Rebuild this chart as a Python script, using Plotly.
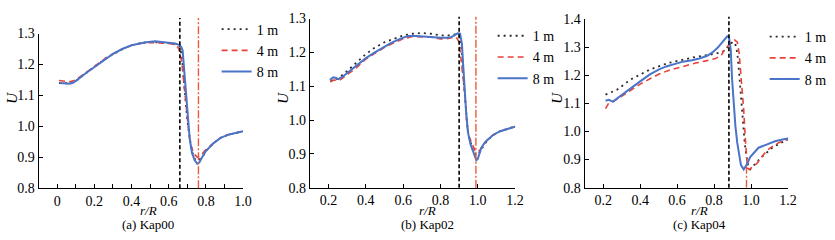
import plotly.graph_objects as go

# ---------------- data ----------------
# Panel (a) Kap00
xa_1 = [0.01, 0.04, 0.07, 0.10, 0.15, 0.20, 0.26, 0.30, 0.35, 0.40, 0.45, 0.50, 0.55, 0.60, 0.64, 0.66, 0.67, 0.68, 0.69, 0.70, 0.71, 0.72, 0.73, 0.74, 0.75, 0.76, 0.78, 0.80, 0.84, 0.88, 0.92, 0.96, 1.00]
ua_1 = [1.140, 1.140, 1.139, 1.147, 1.170, 1.192, 1.219, 1.233, 1.249, 1.262, 1.269, 1.273, 1.272, 1.269, 1.266, 1.258, 1.23, 1.17, 1.09, 1.02, 0.97, 0.935, 0.91, 0.895, 0.89, 0.89, 0.90, 0.92, 0.945, 0.963, 0.973, 0.979, 0.984]
xa_4 = [0.01, 0.04, 0.07, 0.10, 0.15, 0.20, 0.26, 0.30, 0.35, 0.40, 0.45, 0.50, 0.55, 0.60, 0.64, 0.655, 0.67, 0.68, 0.69, 0.70, 0.71, 0.72, 0.73, 0.745, 0.755, 0.77, 0.80, 0.85, 0.88, 0.92, 0.96, 1.00]
ua_4 = [1.148, 1.146, 1.144, 1.150, 1.172, 1.193, 1.220, 1.234, 1.250, 1.262, 1.269, 1.271, 1.270, 1.268, 1.263, 1.25, 1.21, 1.15, 1.08, 1.02, 0.97, 0.94, 0.92, 0.905, 0.90, 0.905, 0.925, 0.95, 0.963, 0.973, 0.979, 0.984]
xa_8 = [0.014, 0.04, 0.067, 0.085, 0.103, 0.15, 0.20, 0.262, 0.30, 0.35, 0.40, 0.439, 0.48, 0.527, 0.58, 0.634, 0.66, 0.669, 0.675, 0.685, 0.695, 0.705, 0.713, 0.725, 0.74, 0.754, 0.765, 0.78, 0.80, 0.84, 0.88, 0.92, 0.96, 1.00]
ua_8 = [1.140, 1.139, 1.138, 1.141, 1.148, 1.170, 1.192, 1.219, 1.234, 1.250, 1.262, 1.267, 1.272, 1.275, 1.272, 1.268, 1.263, 1.255, 1.245, 1.17, 1.093, 1.02, 0.96, 0.915, 0.89, 0.879, 0.884, 0.90, 0.92, 0.945, 0.963, 0.973, 0.979, 0.984]

# Panel (b) Kap02
xb_1 = [0.21, 0.25, 0.30, 0.35, 0.40, 0.45, 0.50, 0.55, 0.60, 0.65, 0.70, 0.75, 0.80, 0.85, 0.89, 0.905, 0.915, 0.925, 0.935, 0.945, 0.955, 0.965, 0.975, 0.985, 0.995, 1.005, 1.02, 1.04, 1.08, 1.12, 1.16, 1.20]
ub_1 = [1.115, 1.122, 1.145, 1.170, 1.195, 1.215, 1.230, 1.240, 1.250, 1.255, 1.257, 1.255, 1.250, 1.250, 1.255, 1.245, 1.20, 1.11, 1.03, 0.975, 0.945, 0.925, 0.91, 0.90, 0.895, 0.90, 0.915, 0.932, 0.955, 0.967, 0.974, 0.981]
xb_4 = [0.21, 0.225, 0.26, 0.30, 0.35, 0.40, 0.45, 0.50, 0.55, 0.60, 0.65, 0.70, 0.75, 0.80, 0.83, 0.86, 0.885, 0.90, 0.915, 0.93, 0.94, 0.95, 0.97, 0.985, 0.995, 1.01, 1.03, 1.05, 1.08, 1.12, 1.16, 1.20]
ub_4 = [1.112, 1.118, 1.118, 1.135, 1.155, 1.180, 1.198, 1.215, 1.228, 1.240, 1.247, 1.247, 1.245, 1.240, 1.240, 1.243, 1.245, 1.23, 1.16, 1.08, 1.00, 0.955, 0.93, 0.91, 0.905, 0.91, 0.925, 0.94, 0.955, 0.967, 0.974, 0.981]
xb_8 = [0.207, 0.225, 0.24, 0.252, 0.28, 0.323, 0.37, 0.40, 0.448, 0.50, 0.536, 0.58, 0.625, 0.67, 0.714, 0.76, 0.803, 0.83, 0.856, 0.875, 0.892, 0.905, 0.915, 0.922, 0.929, 0.938, 0.947, 0.96, 0.974, 0.985, 0.992, 1.00, 1.01, 1.019, 1.04, 1.08, 1.12, 1.16, 1.205]
ub_8 = [1.119, 1.126, 1.124, 1.121, 1.130, 1.149, 1.170, 1.183, 1.200, 1.216, 1.228, 1.239, 1.248, 1.248, 1.246, 1.245, 1.243, 1.243, 1.245, 1.250, 1.256, 1.255, 1.225, 1.16, 1.094, 1.02, 0.965, 0.93, 0.909, 0.89, 0.881, 0.885, 0.903, 0.918, 0.935, 0.955, 0.967, 0.974, 0.981]

# Panel (c) Kap04
xc_1 = [0.213, 0.275, 0.35, 0.453, 0.55, 0.631, 0.70, 0.808, 0.85, 0.88, 0.90, 0.913, 0.925, 0.935, 0.945, 0.955, 0.965, 0.975, 0.985, 0.995, 1.01, 1.05, 1.12, 1.20]
uc_1 = [1.131, 1.148, 1.185, 1.220, 1.243, 1.256, 1.265, 1.276, 1.285, 1.305, 1.318, 1.315, 1.28, 1.21, 1.12, 1.03, 0.96, 0.91, 0.875, 0.865, 0.875, 0.905, 0.945, 0.972]
xc_4 = [0.213, 0.23, 0.257, 0.30, 0.35, 0.40, 0.453, 0.50, 0.55, 0.631, 0.70, 0.75, 0.808, 0.84, 0.853, 0.87, 0.89, 0.91, 0.925, 0.935, 0.945, 0.955, 0.96, 0.968, 0.974, 0.98, 0.99, 1.00, 1.03, 1.07, 1.10, 1.15, 1.20]
uc_4 = [1.081, 1.100, 1.107, 1.125, 1.148, 1.168, 1.187, 1.203, 1.216, 1.231, 1.243, 1.250, 1.259, 1.272, 1.287, 1.300, 1.318, 1.325, 1.318, 1.28, 1.20, 1.12, 1.076, 0.98, 0.909, 0.87, 0.865, 0.87, 0.885, 0.92, 0.94, 0.96, 0.972]
xc_8 = [0.213, 0.23, 0.253, 0.30, 0.364, 0.40, 0.453, 0.50, 0.541, 0.60, 0.631, 0.68, 0.72, 0.76, 0.791, 0.82, 0.844, 0.86, 0.871, 0.88, 0.89, 0.897, 0.906, 0.915, 0.925, 0.933, 0.945, 0.96, 0.975, 0.995, 1.015, 1.04, 1.08, 1.129, 1.17, 1.209]
uc_8 = [1.109, 1.112, 1.106, 1.128, 1.159, 1.178, 1.203, 1.220, 1.231, 1.243, 1.248, 1.253, 1.259, 1.268, 1.281, 1.298, 1.315, 1.330, 1.338, 1.335, 1.29, 1.187, 1.10, 1.02, 0.96, 0.92, 0.88, 0.865, 0.88, 0.909, 0.925, 0.942, 0.952, 0.965, 0.971, 0.976]

# reference vertical lines (x positions)
black_vlines = [0.66, 0.90, 0.88]
red_vlines = [0.76, 0.99, 0.975]

series_names = ["1 m", "4 m", "8 m"]
captions = ["(a) Kap00", "(b) Kap02", "(c) Kap04"]
y_ranges = [[0.8, 1.3], [0.8, 1.3], [0.8, 1.4]]
x_ranges = [[-0.1, 1.0], [0.1, 1.2], [0.1, 1.2]]
x_ticks = [[0, 0.2, 0.4, 0.6, 0.8, 1.0], [0.2, 0.4, 0.6, 0.8, 1.0, 1.2], [0.2, 0.4, 0.6, 0.8, 1.0, 1.2]]

# ---------------- styling ----------------
W, H = 835, 240
FONT = "Liberation Serif"
FS = 14
BLACK_DOT = "#2b2b2b"
RED = "#e8433a"
REDDD = "#ea5a3c"
BLUE = "#4a74c8"

x_dom_px = [(39, 245.7), (313.3, 520.7), (591, 796.7)]
y_dom_px = [(28.3, 193.3), (12.3, 192.7), (12.7, 192.7)]
legend_pos_px = [(219, 7), (498, 14), (773, 15)]
rR_x_px = [150, 432, 707]
U_x_px = [12, 286, 563]
cap_x_px = [150, 432, 707]

fig = go.Figure()

data = [
    [(xa_1, ua_1), (xa_4, ua_4), (xa_8, ua_8)],
    [(xb_1, ub_1), (xb_4, ub_4), (xb_8, ub_8)],
    [(xc_1, uc_1), (xc_4, uc_4), (xc_8, uc_8)],
]
styles = [
    dict(color=BLACK_DOT, width=1.8, dash="2px,4px"),
    dict(color=RED, width=1.6, dash="6px,4px"),
    dict(color=BLUE, width=2.0),
]

layout_axes = {}
for i in range(3):
    sfx = "" if i == 0 else str(i + 1)
    xa = "x" + sfx
    ya = "y" + sfx
    leg = "legend" if i == 0 else "legend" + str(i + 1)
    for j, (xs, ys) in enumerate(data[i]):
        fig.add_trace(go.Scatter(x=xs, y=ys, mode="lines", name=series_names[j],
                                 line=styles[j], xaxis=xa, yaxis=ya, legend=leg,
                                 showlegend=True))
    x0, x1 = x_dom_px[i]
    yt, yb = y_dom_px[i]
    xaxis = dict(
        domain=[x0 / W, x1 / W], range=x_ranges[i], anchor=ya,
        tickvals=x_ticks[i], ticktext=[("0" if v == 0 else f"{v:.1f}") for v in x_ticks[i]],
        ticks="inside", ticklen=4, tickcolor="black", showline=True, linecolor="black",
        linewidth=1, showgrid=False, zeroline=False, ticklabelstandoff=0,
        tickfont=dict(family=FONT, size=FS, color="black"))
    if i == 0:
        xaxis["minor"] = dict(tickvals=[0.1, 0.3, 0.5, 0.7, 0.9], ticks="inside",
                              ticklen=4, tickcolor="black", showgrid=False)
    layout_axes["xaxis" + sfx] = xaxis
    layout_axes["yaxis" + sfx] = dict(
        domain=[1 - yb / H, 1 - yt / H], range=y_ranges[i], anchor=xa, dtick=0.1,
        tickformat=".1f", ticks="inside", ticklen=4, tickcolor="black", showline=True,
        linecolor="black", linewidth=1, showgrid=False, zeroline=False,
        tickfont=dict(family=FONT, size=FS, color="black"))
    lx, ly = legend_pos_px[i]
    layout_axes[leg] = dict(x=lx / W, y=1 - ly / H, xanchor="left", yanchor="top",
                            bgcolor="rgba(0,0,0,0)", borderwidth=0, itemwidth=30,
                            tracegroupgap=0, font=dict(family=FONT, size=FS, color="black"))

fig.update_layout(**layout_axes)

shapes = []
annotations = []
vtop_px = [11.7, 10.5, 10.5]
for i in range(3):
    sfx = "" if i == 0 else str(i + 1)
    yb = y_dom_px[i][1]
    shapes.append(dict(type="line", xref="x" + sfx, yref="paper",
                       x0=black_vlines[i], x1=black_vlines[i],
                       y0=1 - yb / H, y1=1 - vtop_px[i] / H,
                       line=dict(color="black", width=1.6, dash="4px,2.5px")))
    if i < 2:
        shapes.append(dict(type="line", xref="x" + sfx, yref="paper",
                           x0=red_vlines[i], x1=red_vlines[i],
                           y0=1 - yb / H, y1=1 - vtop_px[i] / H,
                           line=dict(color=REDDD, width=1.4, dash="8px,2px,2px,2px")))
    else:
        shapes.append(dict(type="line", xref="x" + sfx, yref="y" + sfx,
                           x0=red_vlines[i], x1=red_vlines[i], y0=0.8, y1=0.875,
                           line=dict(color=REDDD, width=1.4, dash="8px,2px,2px,2px")))
    annotations.append(dict(text="r/R", x=rR_x_px[i] / W, y=1 - 217 / H,
                            xref="paper", yref="paper", showarrow=False,
                            xanchor="center", yanchor="middle", borderpad=0,
                            font=dict(family=FONT, size=13, color="black", style="italic")))
    annotations.append(dict(text=captions[i], x=cap_x_px[i] / W, y=1 - 231.5 / H,
                            xref="paper", yref="paper", showarrow=False,
                            xanchor="center", yanchor="middle", borderpad=0,
                            font=dict(family=FONT, size=13, color="black")))
    annotations.append(dict(text="U", x=U_x_px[i] / W, y=1 - 97 / H,
                            xref="paper", yref="paper", showarrow=False, textangle=-90,
                            xanchor="center", yanchor="middle",
                            font=dict(family=FONT, size=15, color="black", style="italic")))

fig.update_layout(width=W, height=H, autosize=False,
                  margin=dict(l=0, r=0, t=0, b=0),
                  paper_bgcolor="white", plot_bgcolor="white",
                  shapes=shapes, annotations=annotations,
                  font=dict(family=FONT, size=FS, color="black"))

fig.write_html("out.html", config={"displayModeBar": False},
               post_script="document.body.style.margin='0';document.body.style.overflow='hidden';")
